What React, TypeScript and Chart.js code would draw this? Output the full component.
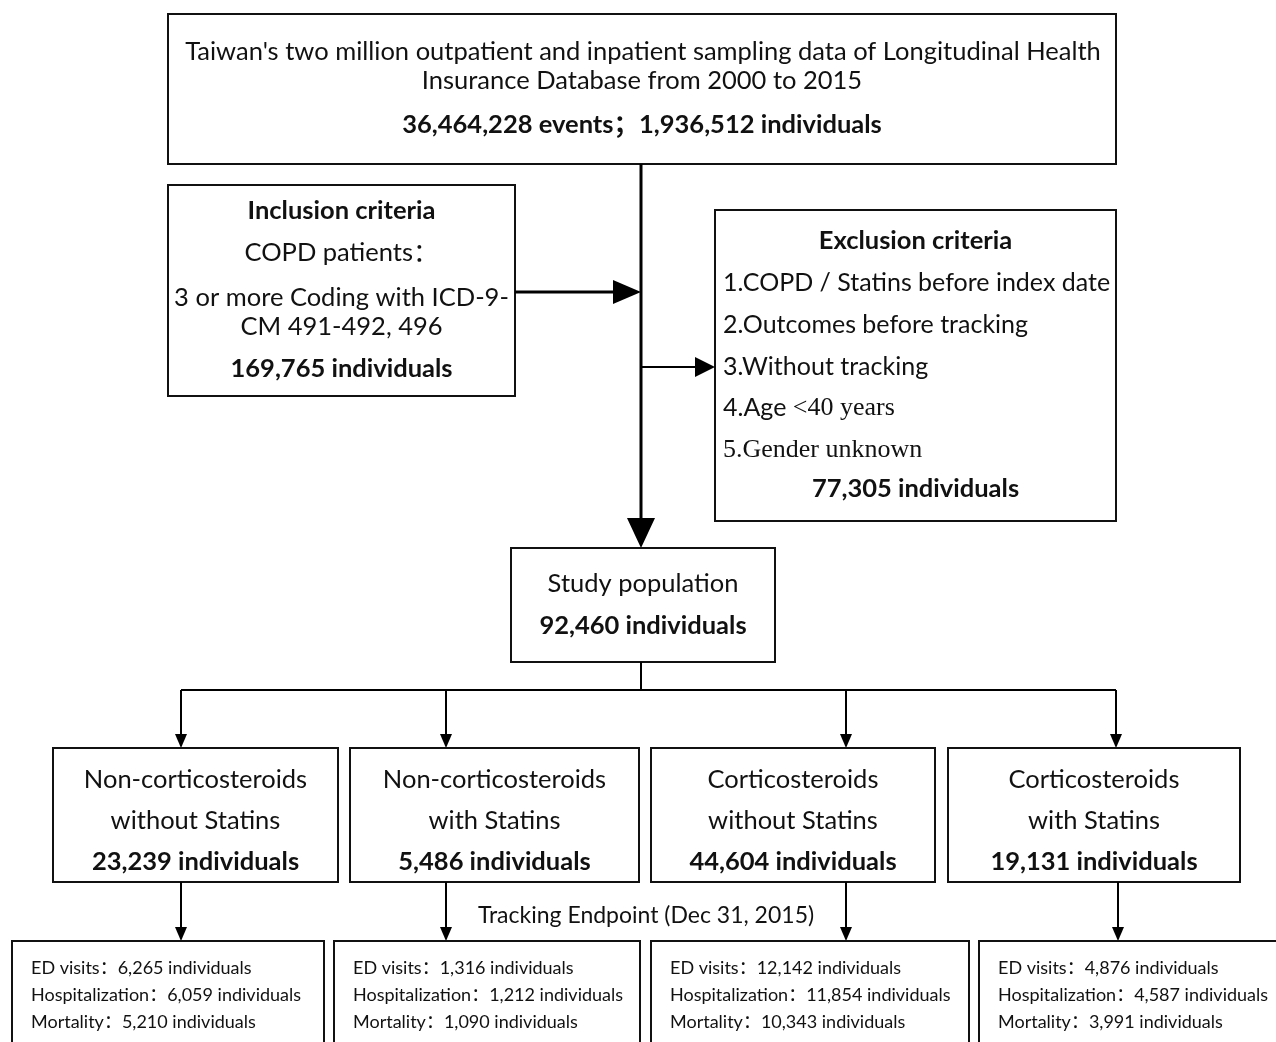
import React, { useEffect, useRef } from "react";
import { Chart, registerables } from "chart.js";

Chart.register(...registerables);

// ---------- data ----------
const sourceLines = [
  "Taiwan's two million outpatient and inpatient sampling data of Longitudinal Health",
  "Insurance Database from 2000 to 2015",
];
const sourceEvents = "36,464,228";
const sourceIndividuals = "1,936,512";

const inclusionTitle = "Inclusion criteria";
const inclusionLines = ["COPD patients：", "3 or more Coding with ICD-9-", "CM 491-492, 496"];
const inclusionCount = "169,765";

const exclusionTitle = "Exclusion criteria";
const exclusionItems = [
  "1.COPD / Statins before index date",
  "2.Outcomes before tracking",
  "3.Without tracking",
  "4.Age <40 years",
  "5.Gender unknown",
];
const exclusionCount = "77,305";

const studyTitle = "Study population";
const studyCount = "92,460";

const groupNamesTop = ["Non-corticosteroids", "Non-corticosteroids", "Corticosteroids", "Corticosteroids"];
const groupNamesBottom = ["without Statins", "with Statins", "without Statins", "with Statins"];
const groupCounts = ["23,239", "5,486", "44,604", "19,131"];

const trackingLabel = "Tracking Endpoint (Dec 31, 2015)";
const outcomeLabels = ["ED visits", "Hospitalization", "Mortality"];
const edVisits = ["6,265", "1,316", "12,142", "4,876"];
const hospitalizations = ["6,059", "1,212", "11,854", "4,587"];
const mortality = ["5,210", "1,090", "10,343", "3,991"];

// ---------- layout (pixel-space units of the linear scales) ----------
const W = 1276;
const H = 1042;
const SANS = "Lato, 'Noto Sans CJK SC', sans-serif";
const SERIF = "'Liberation Serif', 'DejaVu Serif', serif";
const FS = 25.5;

type Box = { x0: number; y0: number; x1: number; y1: number };
const boxSource: Box = { x0: 168, y0: 14, x1: 1116, y1: 164 };
const boxInclusion: Box = { x0: 168, y0: 185, x1: 515, y1: 396 };
const boxExclusion: Box = { x0: 715, y0: 210, x1: 1116, y1: 521 };
const boxStudy: Box = { x0: 511, y0: 548, x1: 775, y1: 662 };
const groupX = [
  [53, 338],
  [350, 639],
  [651, 935],
  [948, 1240],
];
const groupY = [748, 882];
const arrowX = [181, 446, 846, 1116];
const lowerArrowX = [181, 446, 846, 1118];
const resultX = [
  [12, 324],
  [334, 640],
  [651, 969],
  [979, 1290],
];
const resultY = [941, 1060];
const mainX = 641;

const flowPlugin = {
  id: "flow",
  afterDraw(chart: any) {
    const ctx: CanvasRenderingContext2D = chart.ctx;
    const xs = chart.scales.x;
    const ys = chart.scales.y;
    const px = (v: number) => xs.getPixelForValue(v);
    const py = (v: number) => ys.getPixelForValue(v);

    ctx.save();
    ctx.fillStyle = "#ffffff";
    ctx.fillRect(0, 0, chart.width, chart.height);
    ctx.strokeStyle = "#000";
    ctx.fillStyle = "#000";
    ctx.lineCap = "butt";

    const box = (b: Box, lw = 2) => {
      ctx.lineWidth = lw;
      ctx.strokeStyle = "#111";
      ctx.strokeRect(px(b.x0), py(b.y0), px(b.x1) - px(b.x0), py(b.y1) - py(b.y0));
    };
    const line = (x0: number, y0: number, x1: number, y1: number, lw = 2) => {
      ctx.lineWidth = lw;
      ctx.strokeStyle = "#000";
      ctx.beginPath();
      ctx.moveTo(px(x0), py(y0));
      ctx.lineTo(px(x1), py(y1));
      ctx.stroke();
    };
    const arrow = (x0: number, y0: number, x1: number, y1: number, lw: number, len: number, wid: number) => {
      const ax = px(x0), ay = py(y0), bx = px(x1), by = py(y1);
      const dx = bx - ax, dy = by - ay;
      const d = Math.hypot(dx, dy);
      const ux = dx / d, uy = dy / d;
      ctx.lineWidth = lw;
      ctx.strokeStyle = "#000";
      ctx.fillStyle = "#000";
      ctx.beginPath();
      ctx.moveTo(ax, ay);
      ctx.lineTo(bx - ux * len * 0.9, by - uy * len * 0.9);
      ctx.stroke();
      ctx.beginPath();
      ctx.moveTo(bx, by);
      ctx.lineTo(bx - ux * len - uy * wid / 2, by - uy * len + ux * wid / 2);
      ctx.lineTo(bx - ux * len + uy * wid / 2, by - uy * len - ux * wid / 2);
      ctx.closePath();
      ctx.fill();
    };
    const text = (s: string, x: number, y: number, size: number, bold = false, align: CanvasTextAlign = "center", fam = SANS) => {
      ctx.font = `${bold ? "bold " : ""}${size}px ${fam}`;
      ctx.textAlign = align;
      ctx.textBaseline = "middle";
      ctx.fillStyle = "#111";
      ctx.fillText(s, px(x), py(y));
      return ctx.measureText(s).width;
    };

    // Source box
    box(boxSource);
    const cxS = (boxSource.x0 + boxSource.x1) / 2;
    text(sourceLines[0], cxS + 1, 52, FS);
    text(sourceLines[1], cxS, 81, FS);
    text(`${sourceEvents} events；${sourceIndividuals} individuals`, cxS, 125, FS, true);

    // Inclusion box
    box(boxInclusion);
    const cxI = (boxInclusion.x0 + boxInclusion.x1) / 2;
    text(inclusionTitle, cxI, 211, FS, true);
    text(inclusionLines[0], cxI, 253, FS);
    text(inclusionLines[1], cxI, 298, FS);
    text(inclusionLines[2], cxI, 327, FS);
    text(`${inclusionCount} individuals`, cxI, 369, FS, true);

    // Exclusion box
    box(boxExclusion);
    const cxE = (boxExclusion.x0 + boxExclusion.x1) / 2;
    text(exclusionTitle, cxE, 241, FS, true);
    const exY = [283, 325, 367, 408, 450];
    exclusionItems.forEach((s, i) => {
      if (i === 3) {
        const head = s.slice(0, 5);
        const w = text(head, 723, exY[i], FS - 0.5, false, "left");
        text(s.slice(5), 723 + w, exY[i], 26, false, "left", SERIF);
      } else {
        text(s, 723, exY[i], i === 4 ? 26 : FS - 0.5, false, "left", i === 4 ? SERIF : SANS);
      }
    });
    text(`${exclusionCount} individuals`, cxE, 489, FS, true);

    // Main vertical flow
    arrow(mainX, 164, mainX, 548, 3, 30, 28);
    arrow(boxInclusion.x1, 292, mainX, 292, 3, 28, 24);
    arrow(mainX, 367, boxExclusion.x0, 367, 2, 20, 20);

    // Study population
    box(boxStudy);
    const cxP = (boxStudy.x0 + boxStudy.x1) / 2;
    text(studyTitle, cxP, 584, FS);
    text(`${studyCount} individuals`, cxP, 626, FS, true);

    // Branching
    line(mainX, 662, mainX, 690, 2);
    line(arrowX[0], 690, arrowX[3], 690, 2);
    arrowX.forEach((x) => arrow(x, 690, x, groupY[0], 2, 14, 12));

    // Group boxes
    groupX.forEach(([a, b], i) => {
      box({ x0: a, y0: groupY[0], x1: b, y1: groupY[1] });
      const c = (a + b) / 2;
      text(groupNamesTop[i], c, 780, FS);
      text(groupNamesBottom[i], c, 821, FS);
      text(`${groupCounts[i]} individuals`, c, 862, FS, true);
    });

    // Tracking arrows
    lowerArrowX.forEach((x) => arrow(x, groupY[1], x, resultY[0], 2, 14, 12));
    text(trackingLabel, 646, 916, 23);

    // Result boxes
    resultX.forEach(([a, b], i) => {
      box({ x0: a, y0: resultY[0], x1: b, y1: resultY[1] });
      const lx = a + 19;
      text(`${outcomeLabels[0]}：${edVisits[i]} individuals`, lx, 968, 18, false, "left");
      text(`${outcomeLabels[1]}：${hospitalizations[i]} individuals`, lx, 995, 18, false, "left");
      text(`${outcomeLabels[2]}：${mortality[i]} individuals`, lx, 1022, 18, false, "left");
    });

    ctx.restore();
  },
};

export default function App() {
  const ref = useRef<HTMLCanvasElement | null>(null);
  useEffect(() => {
    if (!ref.current) return;
    const chart = new Chart(ref.current, {
      type: "scatter",
      data: { datasets: [{ data: [], pointRadius: 0 }] },
      options: {
        animation: false,
        responsive: false,
        maintainAspectRatio: false,
        devicePixelRatio: 1,
        layout: { padding: 0 },
        events: [],
        plugins: { legend: { display: false }, tooltip: { enabled: false }, title: { display: false } },
        scales: {
          x: { type: "linear", min: 0, max: W, display: false },
          y: { type: "linear", min: 0, max: H, reverse: true, display: false },
        },
      },
      plugins: [flowPlugin],
    });
    return () => chart.destroy();
  }, []);
  return (
    <div style={{ position: "absolute", left: 0, top: 0, width: W, height: H, background: "#fff" }}>
      <canvas ref={ref} width={W} height={H} style={{ width: W, height: H, display: "block" }} />
    </div>
  );
}
